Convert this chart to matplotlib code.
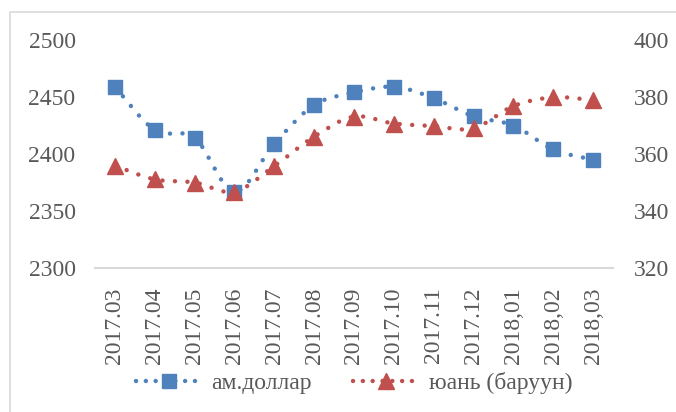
import numpy as np
import matplotlib
matplotlib.use("Agg")
import matplotlib.pyplot as plt
from matplotlib.path import Path
from matplotlib.patches import PathPatch, Rectangle
from matplotlib.lines import Line2D

plt.rcParams["font.family"] = "Liberation Serif"
plt.rcParams["font.size"] = 17

months = ["2017.03", "2017.04", "2017.05", "2017.06", "2017.07", "2017.08",
          "2017.09", "2017.10", "2017.11", "2017.12", "2018,01", "2018,02",
          "2018,03"]
usd = [2459, 2421, 2414, 2367, 2409, 2443, 2454, 2459, 2449, 2433, 2425,
       2404, 2395]
cny = [355.9, 351.1, 350.0, 346.8, 355.8, 366.1, 373.1, 370.7, 369.8,
       369.0, 376.8, 379.9, 378.9]

blue = "#4F81BD"
red = "#C0504D"
grey = "#595959"


def smooth_path(x, y):
    # excel style smoothed line as cubic bezier segments
    x = np.asarray(x, float)
    y = np.asarray(y, float)
    n = len(x)
    verts = [(x[0], y[0])]
    codes = [Path.MOVETO]
    for i in range(n - 1):
        p0 = i - 1 if i > 0 else i
        p3 = i + 2 if i + 2 < n else i + 1
        c1 = (x[i] + (x[i + 1] - x[p0]) / 6, y[i] + (y[i + 1] - y[p0]) / 6)
        c2 = (x[i + 1] - (x[p3] - x[i]) / 6, y[i + 1] - (y[p3] - y[i]) / 6)
        verts += [c1, c2, (x[i + 1], y[i + 1])]
        codes += [Path.CURVE4] * 3
    return Path(verts, codes)


lw = 3.2
dots = (0, (0.01, 2.8))

fig = plt.figure(figsize=(6.76, 4.12), dpi=100)
ax = fig.add_axes([95 / 676, 1 - 268 / 412, 518 / 676, 228 / 412])
ax2 = ax.twinx()

xs = np.arange(len(months))
for a, vals, col in [(ax, usd, blue), (ax2, cny, red)]:
    patch = PathPatch(smooth_path(xs, vals), facecolor="none", edgecolor=col,
                      linewidth=lw, linestyle=dots, capstyle="round")
    a.add_patch(patch)

ax.plot(xs, usd, linestyle="none", marker="s", markersize=10.5, color=blue)
ax2.plot(xs, cny, linestyle="none", marker="^", markersize=12, color=red)

ax.set_xlim(-0.5, len(months) - 0.5)
ax.set_ylim(2300, 2500)
ax.set_yticks([2300, 2350, 2400, 2450, 2500])
ax2.set_ylim(320, 400)
ax2.set_yticks([320, 340, 360, 380, 400])
ax.set_xticks(xs)
ax.set_xticklabels(months, rotation=90)

for a in (ax, ax2):
    for s in a.spines.values():
        s.set_visible(False)
    a.tick_params(length=0, colors=grey, labelsize=17)
ax.spines["bottom"].set_visible(True)
ax.spines["bottom"].set_color("#D9D9D9")
ax.spines["bottom"].set_linewidth(1.5)
ax.tick_params(axis="y", pad=14)
ax2.tick_params(axis="y", pad=15)
ax.tick_params(axis="x", pad=14)

h1 = Line2D([], [], color=blue, linewidth=lw, linestyle=(0, (0.01, 2.2)),
            dash_capstyle="round", marker="s", markersize=10.5)
h2 = Line2D([], [], color=red, linewidth=lw, linestyle=(0, (0.01, 2.2)),
            dash_capstyle="round", marker="^", markersize=12)
fig.legend([h1, h2], ["ам.доллар", "юань (баруун)"], loc="center",
           bbox_to_anchor=(354 / 676, 1 - 383 / 412), ncol=2, frameon=False,
           handlelength=2.8, columnspacing=1.75, handletextpad=0.4,
           labelcolor=grey, fontsize=17)

fig.patches.append(Rectangle((10 / 676, -0.1), 1.2, 1 - 12 / 412 + 0.1,
                             transform=fig.transFigure, fill=False,
                             edgecolor="#D9D9D9", linewidth=1.2))

fig.savefig("out.png", dpi=100)
